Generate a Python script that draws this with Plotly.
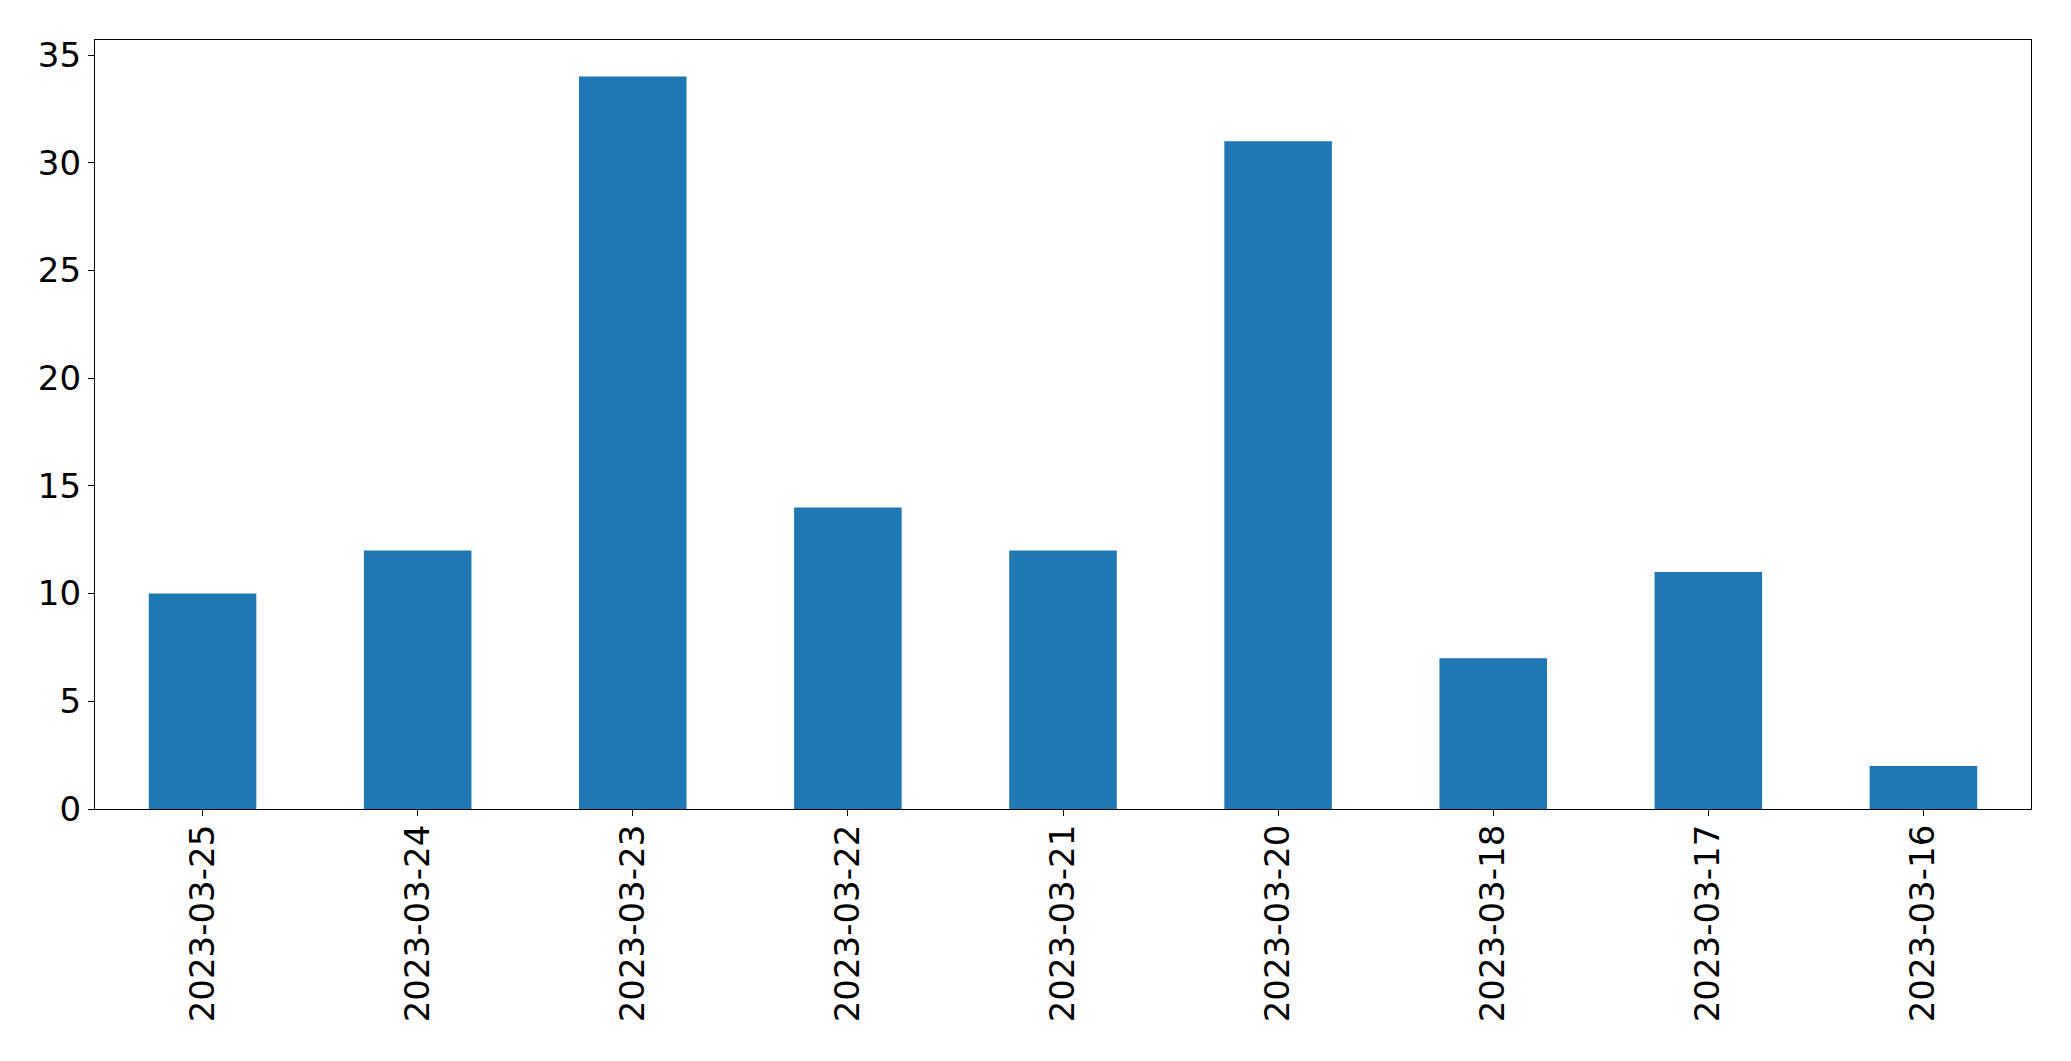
import plotly.graph_objects as go

dates = ["2023-03-25", "2023-03-24", "2023-03-23", "2023-03-22", "2023-03-21",
         "2023-03-20", "2023-03-18", "2023-03-17", "2023-03-16"]
counts = [10, 12, 34, 14, 12, 31, 7, 11, 2]
y_ticks = [0, 5, 10, 15, 20, 25, 30, 35]

fig = go.Figure(go.Bar(x=dates, y=counts, marker_color="#1f77b4", marker_line_width=0, width=0.5))

# page body has an 8px default margin; compensate
fig.update_layout(
    width=2063, height=1053,
    margin=dict(l=87, r=39.5, t=31.5, b=252, pad=0, autoexpand=False),
    plot_bgcolor="white", paper_bgcolor="white",
    showlegend=False,
    font=dict(family="DejaVu Sans", size=34, color="black"),
)
fig.update_xaxes(
    type="category", range=[-0.5, 8.5], automargin=False,
    showline=True, linecolor="black", linewidth=1.3, mirror=True,
    ticks="outside", ticklen=6, tickwidth=1.3, tickcolor="black",
    tickangle=-90, showgrid=False, ticklabelstandoff=-5,
)
fig.update_yaxes(
    range=[0, 35.7], tickvals=y_ticks, automargin=False,
    showline=True, linecolor="black", linewidth=1.3, mirror=True,
    ticks="outside", ticklen=6, tickwidth=1.3, tickcolor="black",
    showgrid=False, zeroline=False,
)
fig.write_html("out.html")
